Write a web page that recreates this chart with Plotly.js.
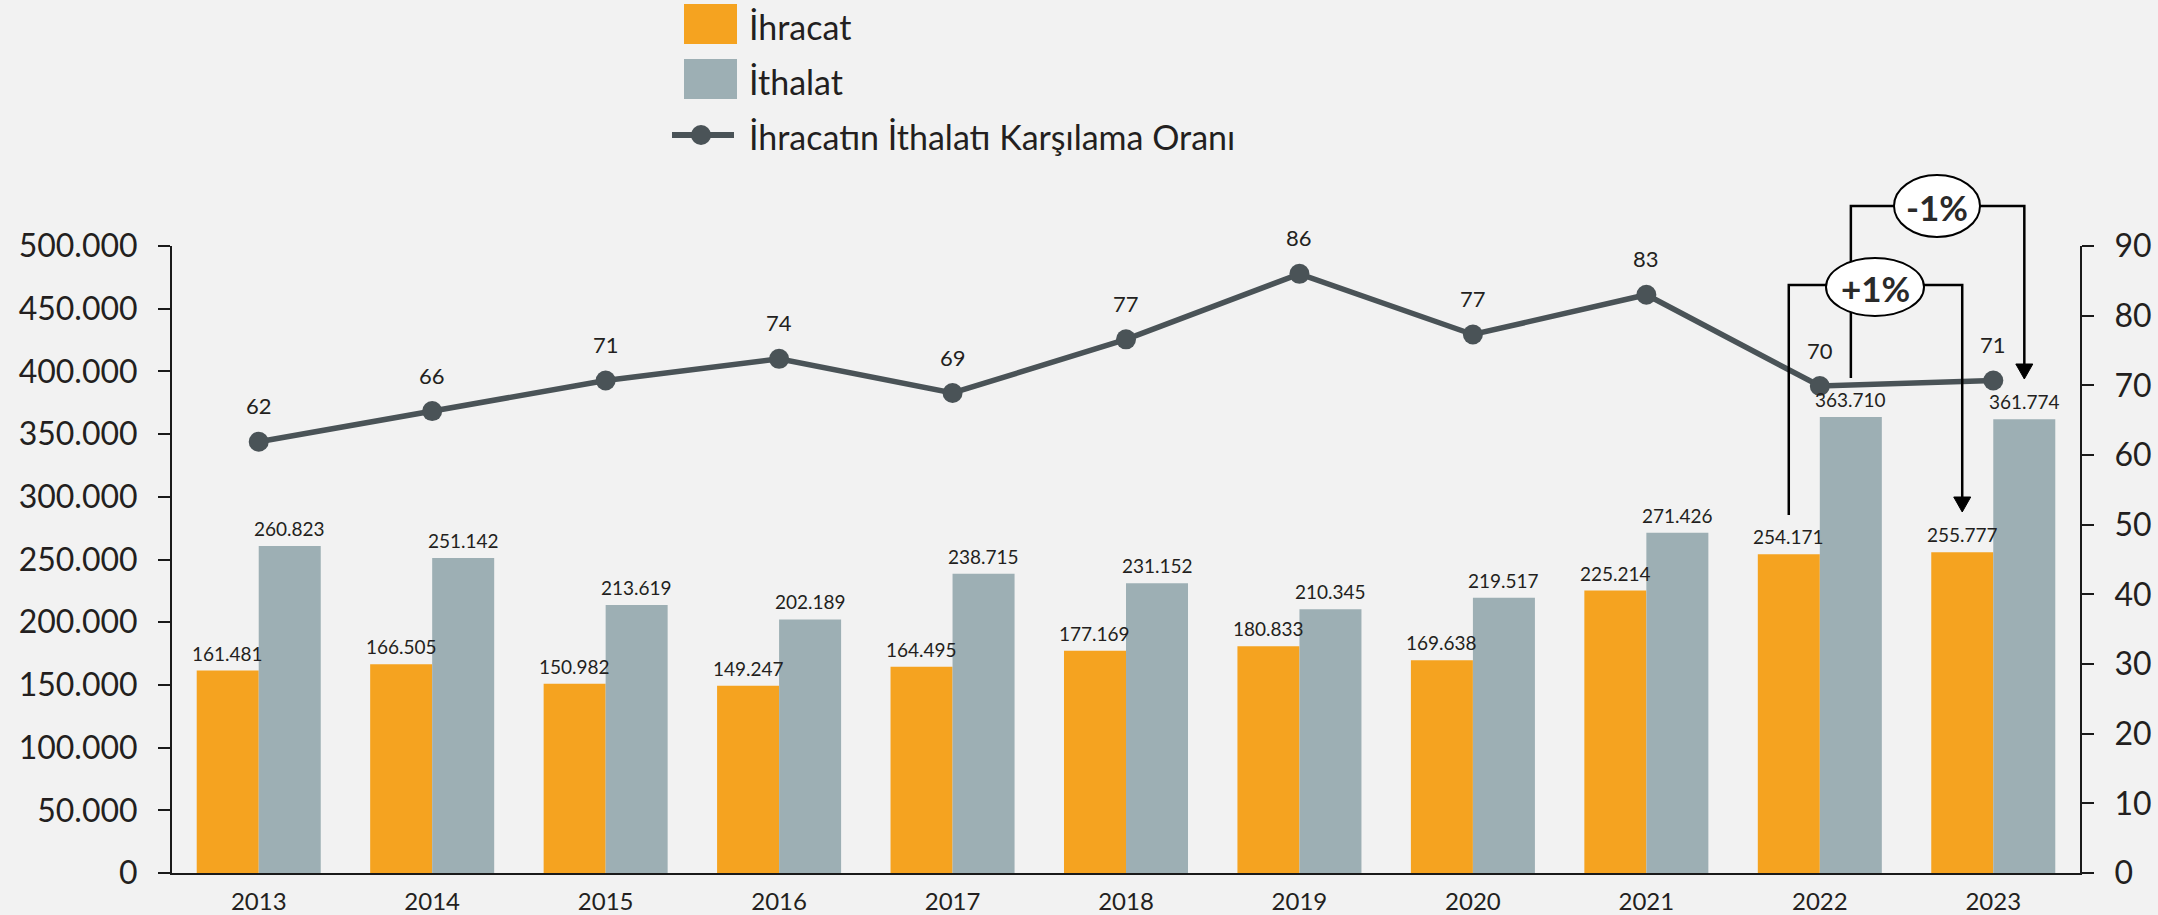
<!DOCTYPE html>
<html>
<head>
<meta charset="utf-8">
<script src="https://cdn.plot.ly/plotly-3.0.1.min.js"></script>
<style>
  html, body { margin: 0; padding: 0; background: #f2f2f2; }
  #chart { width: 2158px; height: 915px; }
</style>
</head>
<body>
<div id="chart"></div>
<script>
// ---- Data ----
const years = ['2013','2014','2015','2016','2017','2018','2019','2020','2021','2022','2023'];
const exportsVals = [161481, 166505, 150982, 149247, 164495, 177169, 180833, 169638, 225214, 254171, 255777];
const importsVals = [260823, 251142, 213619, 202189, 238715, 231152, 210345, 219517, 271426, 363710, 361774];
const coverageVals = [61.9, 66.3, 70.7, 73.8, 68.9, 76.6, 86.0, 77.3, 83.0, 69.9, 70.7];
const coverageLabels = ['62','66','71','74','69','77','86','77','83','70','71'];
const seriesNames = ['İhracat', 'İthalat', 'İhracatın İthalatı Karşılama Oranı'];
const leftTicks = [0, 50000, 100000, 150000, 200000, 250000, 300000, 350000, 400000, 450000, 500000];
const rightTicks = [0, 10, 20, 30, 40, 50, 60, 70, 80, 90];
const changeLabels = ['+1%', '-1%'];

// ---- Style ----
const ORANGE = '#F5A320';
const GREY = '#9DAFB4';
const LINEC = '#4A5357';
const TXT = '#231F20';
const FONT = 'Lato, "Open Sans", sans-serif';
const W = 2158, H = 915;
const L = 172, R = 2080, T = 246, B = 873;
const nCat = years.length;
const barOff = 0.179; // bar centre offset in category units

function pxX(px) { return (px - L) / (R - L); }
function pxY(py) { return (B - py) / (B - T); }
function catX(i, off) { return (i + 0.5 + off) / nCat; }
function fmt(v) { return String(v).replace(/\B(?=(\d{3})+(?!\d))/g, '.'); }

const traces = [
  {
    type: 'bar', name: seriesNames[0], x: years, y: exportsVals,
    marker: { color: ORANGE, line: { width: 0 } },
    hoverinfo: 'x+y+name'
  },
  {
    type: 'bar', name: seriesNames[1], x: years, y: importsVals,
    marker: { color: GREY, line: { width: 0 } },
    hoverinfo: 'x+y+name'
  },
  {
    type: 'scatter', mode: 'lines+markers', name: seriesNames[2],
    x: years, y: coverageVals, yaxis: 'y2',
    line: { color: LINEC, width: 5.5 },
    marker: { color: LINEC, size: 20 },
    cliponaxis: false
  }
];

const annotations = [];
// bar value labels
years.forEach((yr, i) => {
  annotations.push({
    x: i - barOff, y: exportsVals[i], xref: 'x', yref: 'y',
    text: fmt(exportsVals[i]), showarrow: false, yanchor: 'bottom', yshift: 4,
    font: { family: FONT, size: 19, color: TXT }
  });
  annotations.push({
    x: i + barOff, y: importsVals[i], xref: 'x', yref: 'y',
    text: fmt(importsVals[i]), showarrow: false, yanchor: 'bottom', yshift: 4,
    font: { family: FONT, size: 19, color: TXT }
  });
});
// point labels of coverage line
years.forEach((yr, i) => {
  annotations.push({
    x: i, y: coverageVals[i], xref: 'x', yref: 'y2',
    text: coverageLabels[i], showarrow: false, yshift: 36,
    font: { family: FONT, size: 22, color: TXT }
  });
});

// custom legend
const legendRows = [
  { name: seriesNames[0], cy: 24 },
  { name: seriesNames[1], cy: 79 },
  { name: seriesNames[2], cy: 135 }
];
legendRows.forEach(r => {
  annotations.push({
    x: pxX(747), y: pxY(r.cy + 2), xref: 'paper', yref: 'paper',
    xanchor: 'left', yanchor: 'middle', showarrow: false,
    text: r.name, font: { family: FONT, size: 34, color: TXT }
  });
});

const shapes = [
  { type: 'rect', xref: 'paper', yref: 'paper', x0: pxX(684), x1: pxX(737), y0: pxY(4), y1: pxY(44), fillcolor: ORANGE, line: { width: 0 } },
  { type: 'rect', xref: 'paper', yref: 'paper', x0: pxX(684), x1: pxX(737), y0: pxY(59), y1: pxY(99), fillcolor: GREY, line: { width: 0 } },
  { type: 'line', xref: 'paper', yref: 'paper', x0: pxX(672), x1: pxX(734), y0: pxY(135), y1: pxY(135), line: { color: LINEC, width: 6 } },
  { type: 'circle', xref: 'paper', yref: 'paper', x0: pxX(691), x1: pxX(711), y0: pxY(125), y1: pxY(145), fillcolor: LINEC, line: { width: 0 } }
];

// change brackets (2022 -> 2023)
function bracket(xa, xb, yTop, yStartA, yTipB) {
  const xA = catX(xa[0], xa[1]), xB = catX(xb[0], xb[1]);
  const yt = pxY(yTop);
  const ah = 15, aw = 8.5 / (R - L);
  const yBase = pxY(yTipB - ah), yTip = pxY(yTipB);
  shapes.push({
    type: 'path', xref: 'paper', yref: 'paper',
    path: `M${xA},${pxY(yStartA)} L${xA},${yt} L${xB},${yt} L${xB},${yBase}`,
    line: { color: '#000', width: 2.5 }, layer: 'above'
  });
  shapes.push({
    type: 'path', xref: 'paper', yref: 'paper',
    path: `M${xB - aw},${yBase} L${xB + aw},${yBase} L${xB},${yTip} Z`,
    fillcolor: '#000', line: { color: '#000', width: 1 }, layer: 'above'
  });
}
// -1% : imports 2022 -> 2023
bracket([9, barOff], [10, barOff], 206, 378, 379);
// +1% : exports 2022 -> 2023
bracket([9, -barOff], [10, -barOff], 285, 515, 512);

function bubble(cx, cy, w, h, label) {
  shapes.push({
    type: 'circle', xref: 'paper', yref: 'paper',
    x0: pxX(cx - w / 2), x1: pxX(cx + w / 2), y0: pxY(cy + h / 2), y1: pxY(cy - h / 2),
    fillcolor: '#ffffff', line: { color: '#000', width: 2 }, layer: 'above'
  });
  annotations.push({
    x: pxX(cx), y: pxY(cy + 1), xref: 'paper', yref: 'paper', showarrow: false,
    xanchor: 'center', yanchor: 'middle',
    text: '<b>' + label + '</b>', font: { family: FONT, size: 35, color: '#2a2a2a' }
  });
}
bubble(1937, 206, 86, 62, changeLabels[1]);
bubble(1875, 287, 98, 58, changeLabels[0]);

const axisCommon = {
  showline: true, linecolor: '#1a1a1a', linewidth: 2,
  ticks: 'outside', ticklen: 12, tickwidth: 2, tickcolor: '#1a1a1a',
  showgrid: false, zeroline: false,
  tickfont: { family: FONT, size: 32, color: TXT }
};

const layout = {
  width: W, height: H,
  paper_bgcolor: '#f2f2f2', plot_bgcolor: '#f2f2f2',
  margin: { l: L, r: W - R, t: T, b: H - B, pad: 0 },
  barmode: 'group', bargap: 0.285, bargroupgap: 0,
  separators: ',.',
  showlegend: false,
  font: { family: FONT, color: TXT },
  xaxis: {
    type: 'category', range: [-0.5, nCat - 0.5],
    showline: true, linecolor: '#1a1a1a', linewidth: 2,
    ticks: '', showgrid: false, zeroline: false,
    tickfont: { family: FONT, size: 24, color: TXT },
    ticklabelstandoff: 6
  },
  yaxis: Object.assign({}, axisCommon, {
    range: [0, 500000], tickvals: leftTicks, tickformat: ',d',
    ticklabelstandoff: 14
  }),
  yaxis2: Object.assign({}, axisCommon, {
    range: [0, 90], tickvals: rightTicks, overlaying: 'y', side: 'right',
    ticklabelstandoff: 14
  }),
  shapes: shapes,
  annotations: annotations
};

Plotly.newPlot('chart', traces, layout, { displayModeBar: false, staticPlot: true });
</script>
</body>
</html>
